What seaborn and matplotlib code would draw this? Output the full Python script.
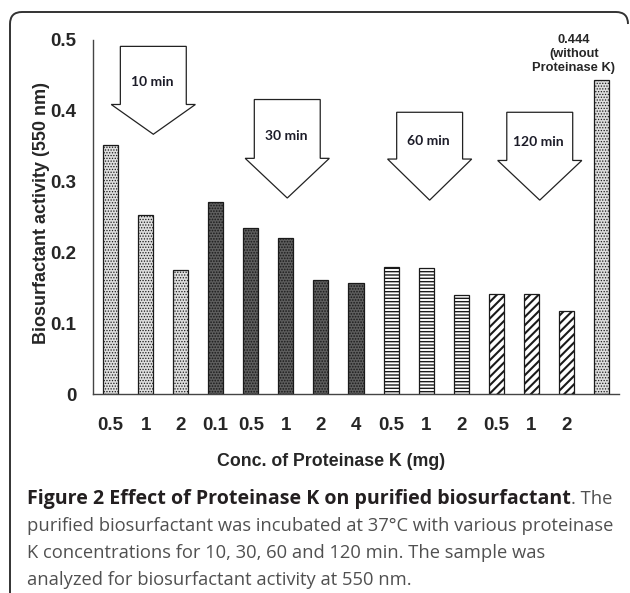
import matplotlib
matplotlib.use("Agg")
import matplotlib.pyplot as plt
import seaborn as sns
import pandas as pd
import numpy as np
from matplotlib.patches import Polygon, PathPatch
from matplotlib.path import Path

# ---------------- data ----------------
conc_labels = ["0.5", "1", "2", "0.1", "0.5", "1", "2", "4", "0.5", "1", "2", "0.5", "1", "2", ""]
activity = [0.352, 0.253, 0.176, 0.271, 0.234, 0.221, 0.162, 0.157,
            0.180, 0.178, 0.140, 0.141, 0.141, 0.118, 0.444]
groups = ["10 min"] * 3 + ["30 min"] * 5 + ["60 min"] * 3 + ["120 min"] * 3 + ["control"]
arrow_labels = ["10 min", "30 min", "60 min", "120 min"]
y_ticks = [0, 0.1, 0.2, 0.3, 0.4, 0.5]
y_ticklabels = ["0", "0.1", "0.2", "0.3", "0.4", "0.5"]

# styles per group: (facecolor, hatch, hatch linewidth)
styles = {
    "10 min": ("#dedede", "......", 0.6),
    "30 min": ("#5e5e5e", "......", 0.8),
    "60 min": ("#ffffff", "-----", 1.0),
    "120 min": ("#ffffff", "////", 1.5),
    "control": ("#dedede", "......", 0.6),
}

W, H = 630, 593
fig = plt.figure(figsize=(W / 100, H / 100), dpi=100)
sns.set_style("white")
plt.rcParams['font.family'] = ['Liberation Sans', 'DejaVu Sans']

def fx(px):
    return px / W

def fy(py):
    return 1 - py / H

ax = fig.add_axes([fx(93), fy(394.3), fx(619) - fx(93), (394.3 - 40) / H])

df = pd.DataFrame({"pos": list(range(len(activity))), "activity": activity, "group": groups})
sns.barplot(data=df, x="pos", y="activity", order=list(range(len(activity))),
            color="white", width=0.43, ax=ax, saturation=1)

for patch, g in zip(ax.patches, groups):
    fc, hatch, hlw = styles[g]
    patch.set_facecolor(fc)
    patch.set_hatch(hatch)
    patch.set_edgecolor("#1a1a1a")
    patch.set_linewidth(0.9)
    try:
        patch.set_hatch_linewidth(hlw)
    except Exception:
        pass

ax.set_xlim(-0.5, len(activity) - 0.5)
ax.set_ylim(0, 0.5)

# axes styling
for s in ["top", "right"]:
    ax.spines[s].set_visible(False)
for s in ["left", "bottom"]:
    ax.spines[s].set_color("#444444")
    ax.spines[s].set_linewidth(1.0)

ax.set_yticks(y_ticks)
ax.set_yticklabels(y_ticklabels, fontsize=13.5, fontweight="bold")
ax.tick_params(axis="y", direction="out", length=4, width=1, color="#444444", pad=8)

# boundaries as major ticks, labels as minor ticks
n = len(activity)
ax.set_xticks(np.arange(-0.5, n, 1.0))
ax.set_xticklabels([])
ax.set_xticks(np.arange(n), minor=True)
ax.set_xticklabels(conc_labels, minor=True, fontsize=13.5, fontweight="bold")
ax.tick_params(axis="x", which="major", direction="out", length=5, width=1, color="#444444")
ax.tick_params(axis="x", which="minor", length=0, pad=16)
ax.set_xlabel("")
ax.set_ylabel("")

# axis titles
fig.text(fx(331), fy(462), "Conc. of Proteinase K (mg)", ha="center", va="center",
         fontsize=12.8, fontweight="bold")
fig.text(fx(42), fy(213), "Biosurfactant activity (550 nm)", ha="center", va="center",
         rotation=90, fontsize=13, fontweight="bold")

# block arrows (center x, top, shaft bottom, tip) in data units
arrow_specs = [
    (1.22, 0.491, 0.409, 0.367),
    (5.04, 0.416, 0.333, 0.277),
    (9.10, 0.398, 0.332, 0.274),
    (12.24, 0.398, 0.330, 0.274),
]
half_shaft = 0.94
half_head = 1.2
for (cx, top, mid, tip), lab in zip(arrow_specs, arrow_labels):
    pts = [(cx - half_shaft, top), (cx + half_shaft, top), (cx + half_shaft, mid),
           (cx + half_head, mid), (cx, tip), (cx - half_head, mid), (cx - half_shaft, mid)]
    ax.add_patch(Polygon(pts, closed=True, facecolor="white", edgecolor="#222222",
                         linewidth=0.9, zorder=3, clip_on=False))
    ty = top - (top - mid) * 0.62
    ax.text(cx - 0.03, ty, lab, ha="center", va="center", fontsize=10,
            fontweight="bold", family=["Lato", "DejaVu Sans"], color="#1c1c28", zorder=4)

# annotation above control bar
ax.annotate("0.444\n(without\nProteinase K)", xy=(n - 1, activity[-1]),
            xytext=(fx(574), fy(54)), textcoords="figure fraction",
            ha="center", va="center", fontsize=9.3, fontweight="bold",
            linespacing=1.25, annotation_clip=False)

# caption
cap_bold = "Figure 2 Effect of Proteinase K on purified biosurfactant"
cap_rest = ". The"
cap_lines = [
    "purified biosurfactant was incubated at 37°C with various proteinase",
    "K concentrations for 10, 30, 60 and 120 min. The sample was",
    "analyzed for biosurfactant activity at 550 nm.",
]
cap_fs = 13.2
cap_family = ["Open Sans", "DejaVu Sans"]
base0 = 504
t_bold = fig.text(fx(27), fy(base0), cap_bold, ha="left", va="baseline", fontsize=14.1,
                  fontweight="bold", family=cap_family, color="#231f20")
fig.canvas.draw()
bb = t_bold.get_window_extent(renderer=fig.canvas.get_renderer())
fig.text(bb.x1 / W, fy(base0), cap_rest, ha="left", va="baseline", fontsize=cap_fs,
         family=cap_family, color="#505050")
for i, line in enumerate(cap_lines):
    fig.text(fx(27), fy(base0 + 27 * (i + 1)), line, ha="left", va="baseline",
             fontsize=cap_fs, family=cap_family, color="#505050")

# frame (left side + rounded top)
r = 12
verts = [(10, H), (10, 12 + r), (10, 12), (10 + r, 12), (628 - r, 12), (628, 12), (628, 12 + r)]
codes = [Path.MOVETO, Path.LINETO, Path.CURVE3, Path.CURVE3, Path.LINETO, Path.CURVE3, Path.CURVE3]
verts_fig = [(fx(x), fy(y)) for x, y in verts]
fig.add_artist(PathPatch(Path(verts_fig, codes), transform=fig.transFigure, fill=False,
                         edgecolor="#333333", linewidth=1.4))

fig.savefig("out.png", dpi=100)
